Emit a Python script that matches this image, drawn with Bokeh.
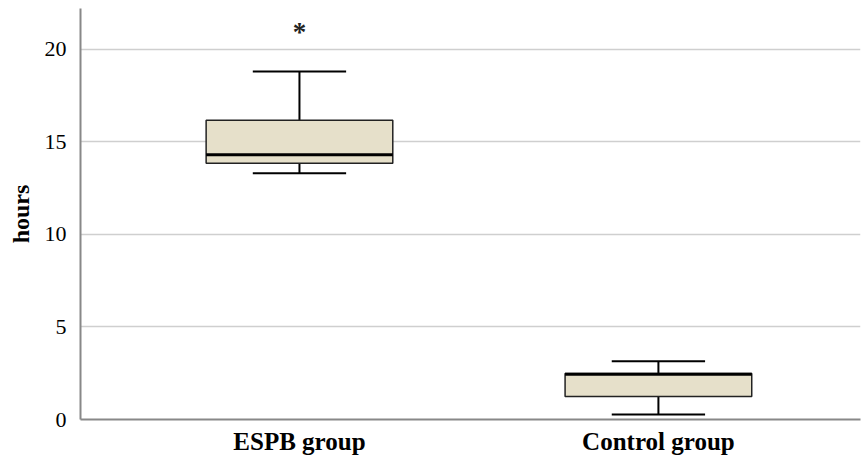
from bokeh.plotting import figure
from bokeh.models import Range1d, FixedTicker, ColumnDataSource
from bokeh.embed import file_html
from bokeh.resources import INLINE
from bokeh.core.properties import value

groups = ["ESPB group", "Control group"]
positions = [1, 2]
q1 = [13.84, 1.24]
median = [14.3, 2.45]
q3 = [16.16, 2.49]
whisk_low = [13.3, 0.27]
whisk_high = [18.8, 3.14]
outlier_pos = [1]
outlier_val = [21.2]

box_w = 0.52
cap_w = 0.26

p = figure(width=863, height=457, output_backend="svg", toolbar_location=None,
           x_range=Range1d(0.39, 2.563), y_range=Range1d(0, 22.2),
           min_border_left=80, min_border_right=3, min_border_top=8, min_border_bottom=38)
p.outline_line_color = None
p.background_fill_color = "white"
p.xgrid.grid_line_color = None
p.ygrid.grid_line_color = "#cfcfcf"
p.ygrid.grid_line_width = 1.5
p.ygrid.ticker = FixedTicker(ticks=[5, 10, 15, 20])

src = ColumnDataSource(dict(
    x=positions,
    left=[x - box_w / 2 for x in positions],
    right=[x + box_w / 2 for x in positions],
    cl=[x - cap_w / 2 for x in positions],
    cr=[x + cap_w / 2 for x in positions],
    q1=q1, q3=q3, med=median, lo=whisk_low, hi=whisk_high,
))

p.segment(x0="x", y0="q3", x1="x", y1="hi", source=src, line_color="black", line_width=2)
p.segment(x0="x", y0="lo", x1="x", y1="q1", source=src, line_color="black", line_width=2)
p.segment(x0="cl", y0="hi", x1="cr", y1="hi", source=src, line_color="black", line_width=2)
p.segment(x0="cl", y0="lo", x1="cr", y1="lo", source=src, line_color="black", line_width=2)
p.quad(left="left", right="right", bottom="q1", top="q3", source=src,
       fill_color="#E6E0CA", line_color="#222222", line_width=1.5)
p.segment(x0="left", y0="med", x1="right", y1="med", source=src, line_color="black", line_width=3)

p.text(x=outlier_pos, y=outlier_val, text=["*"], text_align="center", text_baseline="middle",
       text_font=value("Liberation Serif"), text_font_size="27px", text_font_style="bold",
       text_color="#222222", y_offset=5)

p.xaxis.ticker = FixedTicker(ticks=positions)
p.xaxis.major_label_overrides = {1: groups[0], 2: groups[1]}
p.xaxis.major_label_text_font = "Liberation Serif"
p.xaxis.major_label_text_font_size = "25px"
p.xaxis.major_label_text_font_style = "bold"
p.xaxis.major_label_text_color = "black"
p.xaxis.major_tick_line_color = None
p.xaxis.minor_tick_line_color = None
p.xaxis.axis_line_color = "#888888"
p.xaxis.axis_line_width = 2
p.xaxis.major_label_standoff = 2

p.yaxis.ticker = FixedTicker(ticks=[0, 5, 10, 15, 20])
p.yaxis.major_label_text_font = "Liberation Serif"
p.yaxis.major_label_text_font_size = "22px"
p.yaxis.major_label_text_color = "black"
p.yaxis.major_tick_line_color = None
p.yaxis.minor_tick_line_color = None
p.yaxis.axis_line_color = "#888888"
p.yaxis.axis_line_width = 2
p.yaxis.major_label_standoff = 8
p.yaxis.axis_label = "hours"
p.yaxis.axis_label_text_font = "Liberation Serif"
p.yaxis.axis_label_text_font_size = "24px"
p.yaxis.axis_label_text_font_style = "bold"
p.yaxis.axis_label_text_color = "black"
p.yaxis.axis_label_standoff = 8

open("out.html", "w").write(file_html(p, INLINE))
